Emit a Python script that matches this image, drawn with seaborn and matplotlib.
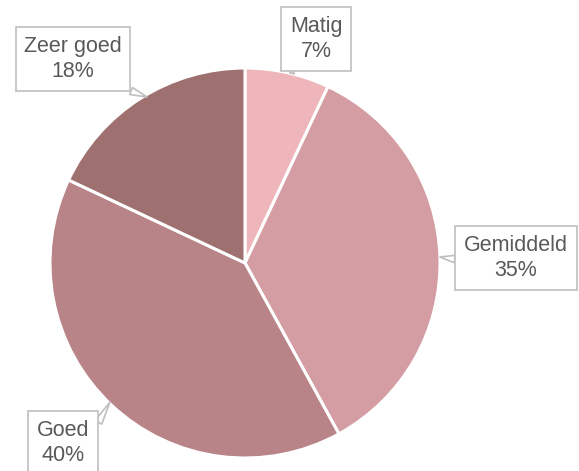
import matplotlib
matplotlib.use("Agg")
import matplotlib.pyplot as plt
import seaborn as sns

sns.set_style("white")
plt.rcParams['font.family'] = ['Liberation Sans', 'DejaVu Sans']

categories = ["Matig", "Gemiddeld", "Goed", "Zeer goed"]
values = [7, 35, 40, 18]
colors = ["#EEB6BB", "#D49DA3", "#B88488", "#9E7070"]

W, H = 579, 471
fig = plt.figure(figsize=(W / 100, H / 100), dpi=100)
ax = fig.add_axes([0, 0, 1, 1])

cx, cy, r = 245, H - 263, 195
ax.pie(values, colors=colors, startangle=90, counterclock=False,
       center=(cx, cy), radius=r, frame=True,
       wedgeprops=dict(edgecolor="white", linewidth=2.2))
ax.set_xlim(0, W)
ax.set_ylim(0, H)
ax.axis("off")

# label box centres (px) and pointer targets (px)
label_pos = [(316, 39), (516, 258), (63, 443), (73, 59)]
pointer_to = [(290, 73), (440, 257), (110, 402), (147, 97)]
relpos = [(0.2, 0.0), (0.0, 0.45), (1.0, 0.6), (0.85, 0.0)]

for cat, v, (lx, ly), (px, py), rp in zip(categories, values, label_pos, pointer_to, relpos):
    ax.annotate(f"{cat}\n{v}%", xy=(px, H - py), xytext=(lx, H - ly),
                ha="center", va="center", fontsize=15.5, color="#595959",
                linespacing=1.25,
                bbox=dict(boxstyle="square,pad=0.4", fc="white", ec="#BFBFBF", lw=1.2),
                arrowprops=dict(arrowstyle="wedge,tail_width=0.35", fc="white",
                                ec="#BFBFBF", lw=1.2, relpos=rp,
                                shrinkA=0, shrinkB=0))

fig.savefig("out.png", dpi=100)
